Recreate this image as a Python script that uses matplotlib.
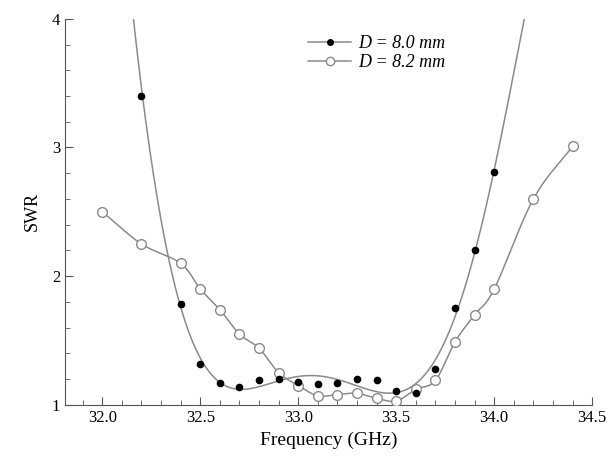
from matplotlib import pyplot as plt
from matplotlib.lines import Line2D
from matplotlib.ticker import MultipleLocator
import numpy as np

plt.rcParams['font.family'] = ['Liberation Serif', 'DejaVu Serif']

# D = 8.0 mm (filled dots)
freq_a = [32.2, 32.4, 32.5, 32.6, 32.7, 32.8, 32.9, 33.0, 33.1, 33.2,
          33.3, 33.4, 33.5, 33.6, 33.7, 33.8, 33.9, 34.0]
swr_a = [3.40, 1.78, 1.32, 1.17, 1.14, 1.19, 1.20, 1.18, 1.16, 1.17,
         1.20, 1.19, 1.11, 1.09, 1.28, 1.75, 2.20, 2.81]

# D = 8.2 mm (open circles)
freq_b = [32.0, 32.2, 32.4, 32.5, 32.6, 32.7, 32.8, 32.9, 33.0, 33.1, 33.2,
          33.3, 33.4, 33.5, 33.6, 33.7, 33.8, 33.9, 34.0, 34.2, 34.4]
swr_b = [2.50, 2.25, 2.10, 1.90, 1.74, 1.55, 1.44, 1.25, 1.15, 1.07, 1.08,
         1.09, 1.05, 1.03, 1.12, 1.19, 1.49, 1.70, 1.90, 2.60, 3.01]

labels = ['D = 8.0 mm', 'D = 8.2 mm']
line_color = '#8a8a8a'


def catmull_rom(x, y, n=20):
    """平滑连接各点"""
    x = np.asarray(x, float)
    y = np.asarray(y, float)
    px = np.concatenate([[2 * x[0] - x[1]], x, [2 * x[-1] - x[-2]]])
    py = np.concatenate([[2 * y[0] - y[1]], y, [2 * y[-1] - y[-2]]])
    xs, ys = [], []
    t = np.linspace(0, 1, n, endpoint=False)
    for i in range(1, len(px) - 2):
        for p, out in ((px, xs), (py, ys)):
            p0, p1, p2, p3 = p[i - 1], p[i], p[i + 1], p[i + 2]
            out.append(0.5 * (2 * p1 + (-p0 + p2) * t
                              + (2 * p0 - 5 * p1 + 4 * p2 - p3) * t ** 2
                              + (-p0 + 3 * p1 - 3 * p2 + p3) * t ** 3))
    xs.append([x[-1]])
    ys.append([y[-1]])
    return np.concatenate(xs), np.concatenate(ys)


fig = plt.figure(figsize=(6.08, 4.59), dpi=100)
ax = fig.add_axes([0.107, 0.118, 0.867, 0.841])

# 多项式拟合曲线 (D = 8.0 mm)，第一个点不参与拟合
xa = np.asarray(freq_a)[1:]
coef = np.polyfit(xa - 33.1, np.asarray(swr_a)[1:], 6)
xf = np.linspace(32.0, 34.3, 600)
yf = np.polyval(coef, xf - 33.1)
ax.plot(xf, yf, color=line_color, lw=1.1, zorder=2)
ax.plot(freq_a, swr_a, 'o', color='black', ms=4.5, zorder=4)

# 平滑连线 (D = 8.2 mm)
xb, yb = catmull_rom(freq_b, swr_b)
ax.plot(xb, yb, color=line_color, lw=1.1, zorder=2)
ax.plot(freq_b, swr_b, 'o', mfc='white', mec=line_color, mew=1.0, ms=7, zorder=3)

handles = [
    Line2D([], [], color=line_color, lw=1.1, marker='o', mfc='black', mec='black', ms=4),
    Line2D([], [], color=line_color, lw=1.1, marker='o', mfc='white', mec=line_color, ms=6),
]
ax.legend(handles, labels, loc='upper left', bbox_to_anchor=(0.43, 1.0), frameon=False,
          prop={'size': 13, 'style': 'italic'}, handlelength=2.4,
          handletextpad=0.4, labelspacing=0.1)

ax.set_xlim(31.81, 34.5)
ax.set_ylim(1, 4)
ax.xaxis.set_major_locator(MultipleLocator(0.5))
ax.xaxis.set_minor_locator(MultipleLocator(0.1))
ax.yaxis.set_major_locator(MultipleLocator(1))
ax.yaxis.set_minor_locator(MultipleLocator(0.2))
ax.tick_params(which='both', direction='in', color='#555555', labelsize=12)
ax.tick_params(which='major', length=6)
ax.tick_params(which='minor', length=3.5)
ax.xaxis.set_major_formatter(plt.FormatStrFormatter('%.1f'))
ax.yaxis.set_major_formatter(plt.FormatStrFormatter('%d'))
for side in ['top', 'right']:
    ax.spines[side].set_visible(False)
for side in ['left', 'bottom']:
    ax.spines[side].set_color('#555555')

ax.set_xlabel('Frequency (GHz)', fontsize=14, labelpad=4)
ax.set_ylabel('SWR', fontsize=13, labelpad=8)

plt.savefig('out.png', dpi=100)
plt.close()
